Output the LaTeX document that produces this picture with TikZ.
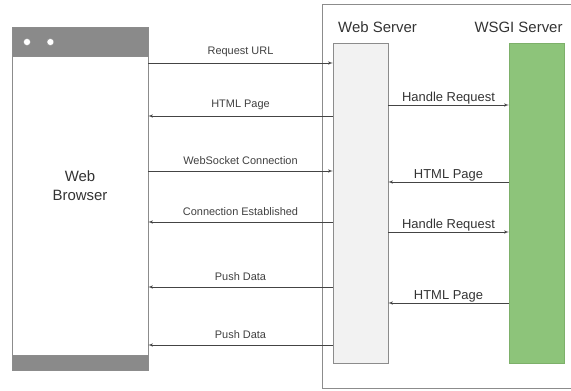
\documentclass[tikz,border=0pt]{standalone}
\usepackage{fontspec}
\setmainfont{Liberation Sans}
\usetikzlibrary{arrows}
\usetikzlibrary{positioning}
\definecolor{bargray}{HTML}{8A8A8A}
\definecolor{boxline}{HTML}{8C8C8C}
\definecolor{webfill}{HTML}{F2F2F2}
\definecolor{wsgifill}{HTML}{8DC47A}
\definecolor{wsgiline}{HTML}{7DB06A}
\definecolor{arrline}{HTML}{444444}

\tikzset{
  lane/.style={draw=boxline,minimum width=55bp,minimum height=320bp,inner sep=0pt},
  msg/.style={->,arrline,semithick},
  lbl/.style={font=\fontsize{11}{12}\selectfont,text=black!75},
  rlbl/.style={font=\fontsize{13}{14}\selectfont,text=black!80,inner sep=1bp},
  title/.style={font=\fontsize{15}{16}\selectfont,text=black!80}
}

\begin{document}
\begin{tikzpicture}[x=1bp,y=-1bp,>=latex']
      \useasboundingbox (0,0) rectangle (571,390);
      % browser window
      \node (browser) [draw=boxline,fill=white,minimum width=136bp,minimum height=343bp,inner sep=0pt] at (80,198.5) {};
      \node (topbar) [draw=boxline,fill=bargray,minimum width=136bp,minimum height=29bp,inner sep=0pt,anchor=north] at (browser.north) {};
      \node (botbar) [draw=boxline,fill=bargray,minimum width=136bp,minimum height=15bp,inner sep=0pt,anchor=south] at (browser.south) {};
      \node (btna) [draw=boxline,fill=white,circle,inner sep=0pt,minimum size=7bp] at (27,42) {};
      \node (btnb) [draw=boxline,fill=white,circle,inner sep=0pt,minimum size=7bp,right=16bp of btna] {};
      \node (brname) [title,align=center] at (80,186) {Web\\[3bp]Browser};
      % server side
      \draw[boxline] (571,4) -| (322,388) -- (571,388);
      \node (web) [lane,fill=webfill] at (360.5,203) {};
      \node (wsgi) [lane,fill=wsgifill,draw=wsgiline] at (536.5,203) {};
      \node (webname) [title,above=7bp of web,xshift=17bp] {Web Server};
      \node (wsginame) [title,above=7bp of wsgi,xshift=-18bp] {WSGI Server};
      % browser <-> web server
      \foreach \yy/\txt/\dir in {63/Request URL/->,116/HTML Page/<-,171/WebSocket Connection/->,
                                 222/Connection Established/<-,287/Push Data/<-,345/Push Data/<-}
        \draw[msg,\dir] (browser.east |- 0,\yy) -- node[lbl,above=3bp] {\txt} (web.west |- 0,\yy);
      % web server <-> wsgi
      \foreach \yy/\txt/\dir in {105/Handle Request/->,182/HTML Page/<-,232/Handle Request/->,303/HTML Page/<-}
        \draw[msg,\dir] (web.east |- 0,\yy) -- node[rlbl,above] {\txt} (wsgi.west |- 0,\yy);
    \end{tikzpicture}
\end{document}
